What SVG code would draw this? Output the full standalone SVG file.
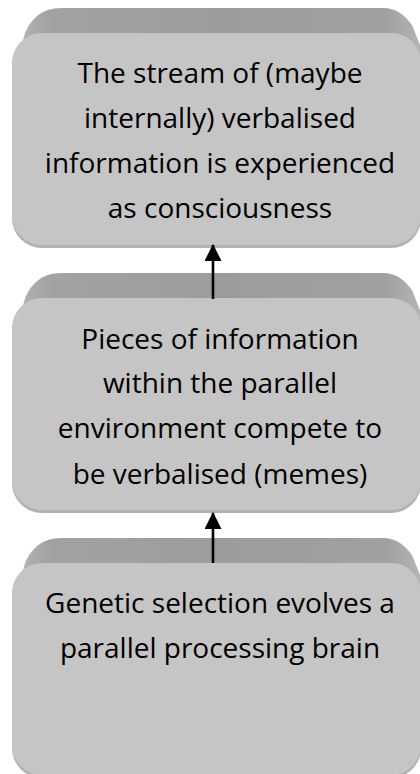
<svg xmlns="http://www.w3.org/2000/svg" width="420" height="774" viewBox="0 0 420 774">
  <style>
    .front { fill: #c5c5c5; }
    .edge { fill: #b2b2b2; }
    .bevel { fill: url(#bevelGrad); }
    .label { font-family: "Open Sans", "Liberation Sans", sans-serif; font-size: 28px; fill: #000; text-anchor: middle; }
    .conn { stroke: #000; stroke-width: 2.6; fill: none; marker-end: url(#arrow); }
  </style>
  <defs>
    <linearGradient id="bevelGrad" x1="0" y1="0" x2="1" y2="0">
      <stop offset="0" stop-color="#b4b4b4"/>
      <stop offset="0.08" stop-color="#a2a2a2"/>
      <stop offset="0.5" stop-color="#9c9c9c"/>
      <stop offset="0.9" stop-color="#a0a0a0"/>
      <stop offset="1" stop-color="#b8b8b8"/>
    </linearGradient>
    <marker id="arrow" markerUnits="userSpaceOnUse" markerWidth="17" markerHeight="17" viewBox="0 0 17 17" refX="16" refY="8.5" orient="auto">
      <path d="M0,0 L17,8.5 L0,17 Z" fill="#000"/>
    </marker>
  </defs>

  <g id="node-consciousness">
    <path class="bevel" d="M18,60 L25,33 C31,20 40,8 62,8 L382,8 C398,8 405,16 412,25 L426,60 Z"/>
    <rect class="edge" x="12" y="35" width="409" height="213" rx="30" ry="30"/>
    <rect class="front" x="12" y="33" width="409" height="212" rx="30" ry="30"/>
    <text class="label" x="220" y="83">The stream of (maybe</text>
    <text class="label" x="220" y="128">internally) verbalised</text>
    <text class="label" x="220" y="172.5">information is experienced</text>
    <text class="label" x="220" y="218">as consciousness</text>
  </g>

  <g id="node-memes">
    <path class="bevel" d="M18,325 L25,298 C31,285 40,273 62,273 L382,273 C398,273 405,281 412,290 L426,325 Z"/>
    <rect class="edge" x="12" y="300" width="409" height="213" rx="30" ry="30"/>
    <rect class="front" x="12" y="298" width="409" height="212" rx="30" ry="30"/>
    <text class="label" x="220" y="348.5">Pieces of information</text>
    <text class="label" x="220" y="393">within the parallel</text>
    <text class="label" x="220" y="438">environment compete to</text>
    <text class="label" x="220" y="483.5">be verbalised (memes)</text>
  </g>

  <g id="node-genetic">
    <path class="bevel" d="M18,590 L25,563 C31,550 40,538 62,538 L382,538 C398,538 405,546 412,555 L426,590 Z"/>
    <rect class="edge" x="12" y="565" width="409" height="213" rx="30" ry="30"/>
    <rect class="front" x="12" y="563" width="409" height="212" rx="30" ry="30"/>
    <text class="label" x="220" y="613">Genetic selection evolves a</text>
    <text class="label" x="220" y="657.5">parallel processing brain</text>
  </g>

  <g id="connectors">
    <line class="conn" x1="213" y1="299" x2="213" y2="245"/>
    <line class="conn" x1="213" y1="563" x2="213" y2="513"/>
  </g>
</svg>
